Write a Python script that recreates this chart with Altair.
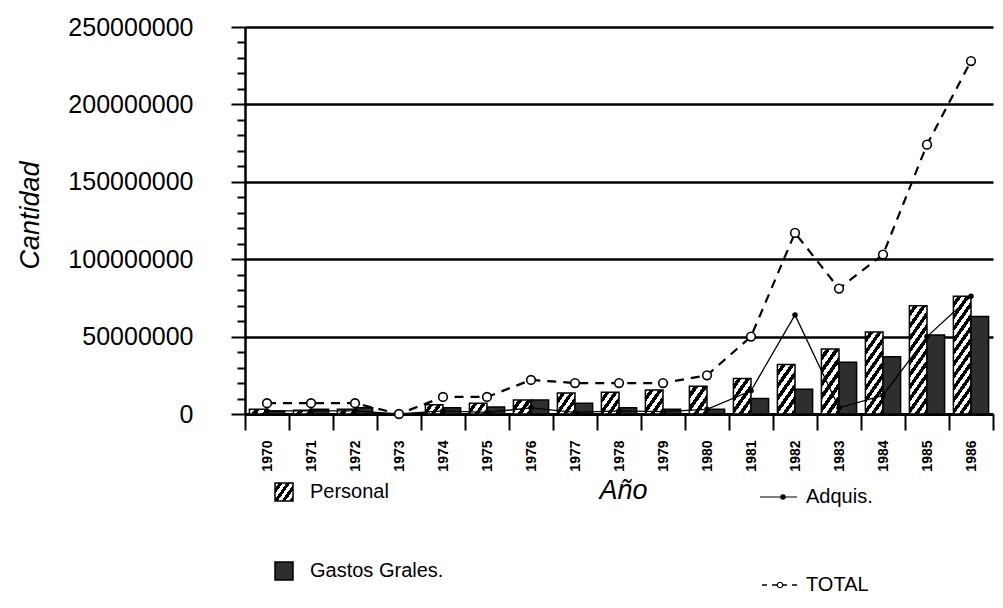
import math
import altair as alt
import pandas as pd

# ---------------- data ----------------
years = [str(y) for y in range(1970, 1987)]
personal = [3000000, 2500000, 3000000, 0, 6000000, 7000000, 9000000, 13500000, 14000000,
            15500000, 18000000, 23000000, 32000000, 42000000, 53000000, 70000000, 76000000]
gastos = [2000000, 3000000, 4000000, 0, 4000000, 4500000, 9000000, 7000000, 4000000,
          3000000, 3000000, 10000000, 16000000, 33500000, 37000000, 51000000, 63000000]
adquis = [2000000, 2000000, 2000000, 0, 2000000, 1000000, 4000000, 1000000, 2000000,
          1500000, 3000000, 15000000, 64000000, 4000000, 12000000, 50000000, 76000000]
total = [7000000, 7000000, 7000000, 0, 11000000, 11000000, 22000000, 20000000, 20000000,
         20000000, 25000000, 50000000, 117000000, 81000000, 103000000, 174000000, 228000000]
series_bars = ["Personal", "Gastos Grales."]
series_lines = ["Adquis.", "TOTAL"]
y_ticks = list(range(0, 250000001, 10000000))

# ---------------- layout ----------------
W, H = 748, 387
Y_MAX = 250000000
FONT = "Liberation Sans"
band = W / len(years)
bar_w = band / 2.5


def hatch(w, h, period=7.0, theta=55.0):
    p, q = math.sin(math.radians(theta)), math.cos(math.radians(theta))
    h = max(h, 1.0)
    k = (p * w + q * h) / (p * p * w * w + q * q * h * h)
    n = max(1, round((p * w + q * h) / period))
    stops = []
    for i in range(n):
        stops += [
            {"offset": i / n, "color": "white"},
            {"offset": (i + 0.5) / n, "color": "white"},
            {"offset": (i + 0.5) / n, "color": "black"},
            {"offset": (i + 1) / n, "color": "black"},
        ]
    return {"gradient": "linear", "x1": 0, "y1": 0,
            "x2": p * w * k, "y2": q * h * k, "stops": stops}


bar_df = pd.DataFrame({
    "year": years * 2,
    "serie": [series_bars[0]] * len(years) + [series_bars[1]] * len(years),
    "value": personal + gastos,
})
adq_df = pd.DataFrame({"year": years, "value": adquis})
tot_df = pd.DataFrame({"year": years, "value": total})

conds = []
for yr, v in zip(years, personal):
    conds.append({
        "test": f"datum.serie === 'Personal' && datum.year === '{yr}'",
        "value": hatch(bar_w, v * H / Y_MAX),
    })

major = "datum.value % 50000000 === 0"
y_axis = alt.Axis(
    values=y_ticks, format="d",
    labelExpr=f"{major} ? datum.label : ''",
    tickSize={"condition": {"test": major, "value": 14}, "value": 8},
    gridOpacity={"condition": {"test": major, "value": 1}, "value": 0},
    grid=True, gridColor="black", gridWidth=2.5,
    domainColor="black", domainWidth=2.5, tickColor="black", tickWidth=2,
    labelFont=FONT, labelFontSize=25, labelColor="black", labelPadding=38,
    title="Cantidad", titleFont=FONT, titleFontSize=27, titleFontStyle="italic",
    titleFontWeight="normal", titleColor="black", titleAngle=270,
    titleX=-215, titleY=188, titleAlign="center", titleBaseline="middle",
)
x_axis = alt.Axis(
    tickBand="extent", tickSize=16, tickWidth=2, tickColor="black",
    domainColor="black", domainWidth=3, labelAngle=270, labelFont=FONT,
    labelFontSize=14, labelFontWeight="bold", labelColor="black", labelPadding=10,
    title="Año", titleFont=FONT, titleFontSize=27, titleFontStyle="italic",
    titleFontWeight="normal", titleColor="black", titleX=378, titleY=76,
    titleAlign="center", titleBaseline="middle",
)
X = alt.X("year:N", sort=years, scale=alt.Scale(paddingInner=0, paddingOuter=0), axis=x_axis)
Y = alt.Y("value:Q", scale=alt.Scale(domain=[0, Y_MAX], nice=False), axis=y_axis)

bars = alt.Chart(bar_df).mark_bar(stroke="black", strokeWidth=1.5).encode(
    x=X, y=Y,
    xOffset=alt.XOffset("serie:N", sort=series_bars,
                        scale=alt.Scale(domain=series_bars, paddingInner=0, paddingOuter=0.25)),
    fill=alt.FillValue(value="#2e2e2e", condition=conds),
)

adq_line = alt.Chart(adq_df).mark_line(color="black", strokeWidth=1.3).encode(x=X, y=Y)
adq_pts = alt.Chart(adq_df).mark_circle(color="black", size=30, opacity=1).encode(x=X, y=Y)
tot_line = alt.Chart(tot_df).mark_line(color="black", strokeWidth=2.2, strokeDash=[9, 7]).encode(x=X, y=Y)
tot_pts = alt.Chart(tot_df).mark_point(shape="circle", filled=True, fill="white", stroke="black",
                                       strokeWidth=1.6, size=75, opacity=1).encode(x=X, y=Y)

# ---------------- legend (manual, to show hatch) ----------------
lg_p = pd.DataFrame({"label": [series_bars[0]]})
lg_g = pd.DataFrame({"label": [series_bars[1]]})
lg_a = pd.DataFrame({"label": [series_lines[0]]})
lg_t = pd.DataFrame({"label": [series_lines[1]]})


def lg_text(df, x, y):
    return alt.Chart(df).mark_text(align="left", baseline="middle", font=FONT,
                                   fontSize=20, color="black").encode(
        x=alt.value(x), y=alt.value(y), text="label:N")


sw_p = alt.Chart(lg_p).mark_rect(fill=hatch(18, 18, period=6), stroke="black", strokeWidth=1.5).encode(
    x=alt.value(30), x2=alt.value(48), y=alt.value(456), y2=alt.value(474))
sw_g = alt.Chart(lg_g).mark_rect(fill="#2e2e2e", stroke="black", strokeWidth=1.5).encode(
    x=alt.value(30), x2=alt.value(48), y=alt.value(535), y2=alt.value(553))
sym_a_line = alt.Chart(lg_a).mark_rule(color="black", strokeWidth=1.2).encode(
    x=alt.value(515), x2=alt.value(552), y=alt.value(470))
sym_a_pt = alt.Chart(lg_a).mark_circle(color="black", size=30, opacity=1).encode(
    x=alt.value(538), y=alt.value(470))
sym_t_line = alt.Chart(lg_t).mark_rule(color="black", strokeWidth=1.6, strokeDash=[5, 5]).encode(
    x=alt.value(517), x2=alt.value(552), y=alt.value(558))
sym_t_pt = alt.Chart(lg_t).mark_point(shape="circle", filled=True, fill="white", stroke="black",
                                      strokeWidth=1.2, size=30, opacity=1).encode(
    x=alt.value(535), y=alt.value(558))

chart = alt.layer(
    bars, adq_line, adq_pts, tot_line, tot_pts,
    sw_p, sw_g, lg_text(lg_p, 65, 465), lg_text(lg_g, 65, 544),
    sym_a_line, sym_a_pt, sym_t_line, sym_t_pt,
    lg_text(lg_a, 561, 470), lg_text(lg_t, 561, 558),
).properties(
    width=W, height=H,
    autosize=alt.AutoSizeParams(type="none"),
    padding={"left": 237, "top": 19, "right": 2, "bottom": 186},
    background="white",
).configure_view(strokeWidth=0)

chart.save("out.html", embed_options={"renderer": "svg", "actions": False})
